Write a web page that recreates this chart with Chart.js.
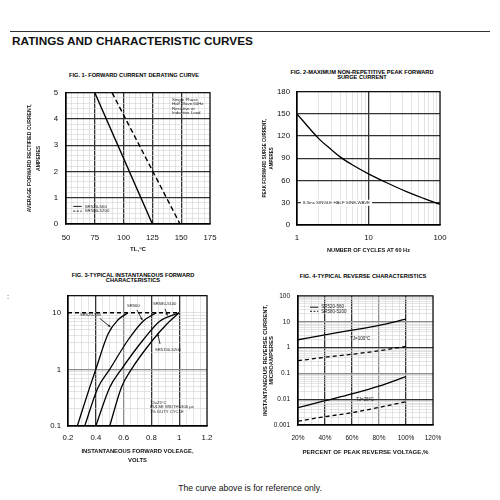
<!DOCTYPE html>
<html>
<head>
<meta charset="utf-8">
<title>Ratings and characteristic curves</title>
<script src="https://cdn.jsdelivr.net/npm/chart.js@4.4.1/dist/chart.umd.min.js"></script>
<style>
  html, body { margin: 0; padding: 0; background: #fff; }
  body { position: relative; width: 500px; height: 500px; overflow: hidden; font-family: 'Liberation Sans', Arial, sans-serif; color: #111; }
  canvas { position: absolute; }
  .rule { position: absolute; left: 10px; top: 31px; width: 480px; height: 1px; background: #333; }
  .head { position: absolute; left: 12px; top: 33px; font-size: 11.8px; line-height: 16px; font-weight: bold; white-space: nowrap; }
  .fig { position: absolute; width: 240px; font-size: 5.7px; line-height: 5px; font-weight: bold; text-align: center; white-space: nowrap; color: #000; }
  .foot { position: absolute; left: 0; top: 482px; width: 500px; text-align: center; font-size: 8.6px; line-height: 12px; }
  .dot { position: absolute; left: 7px; top: 292px; font-size: 7px; line-height: 10px; }
</style>
</head>
<body>
<div class="rule"></div>
<div class="head">RATINGS AND CHARACTERISTIC CURVES</div>
<div class="fig" style="left:14px;top:72.6px">FIG. 1- FORWARD CURRENT DERATING CURVE</div>
<div class="fig" style="left:242px;top:69.9px">FIG. 2-MAXIMUM NON-REPETITIVE PEAK FORWARD<br>SURGE CURRENT</div>
<div class="fig" style="left:13px;top:272.6px">FIG. 3-TYPICAL INSTANTANEOUS FORWARD<br>CHARACTERISTICS</div>
<div class="fig" style="left:243px;top:274.3px">FIG. 4-TYPICAL REVERSE CHARACTERISTICS</div>
<div class="dot">:</div>
<canvas id="fig1" width="240" height="180" style="left:0;top:80px"></canvas>
<canvas id="fig2" width="250" height="180" style="left:250px;top:80px"></canvas>
<canvas id="fig3" width="240" height="186" style="left:0;top:284px"></canvas>
<canvas id="fig4" width="250" height="186" style="left:250px;top:284px"></canvas>
<div class="foot">The curve above is for reference only.</div>
<script>
Chart.defaults.font.family = "'Liberation Sans', Arial, sans-serif";
Chart.defaults.color = '#111';
Chart.defaults.animation = false;
Chart.defaults.plugins.legend.display = false;
Chart.defaults.plugins.tooltip.enabled = false;

// fig 1 - forward current derating
const derateTempA = [75, 125];
const derateAmpsA = [5, 0];
const derateTempB = [90, 149];
const derateAmpsB = [5, 0];
const derateTempTicks = [50, 75, 100, 125, 150, 175];
const derateAmpTicks = [0, 1, 2, 3, 4, 5];
const derateSeries = ['SR520-560', 'SR580-5200'];
const derateNote = ['Single Phase', 'Half Wave 60Hz', 'Resistive or', 'Inductive Load'];

// fig 2 - peak forward surge current
const surgeCycles = [1, 2, 3, 4, 6, 10, 18, 34, 59, 100];
const surgeAmps = [150, 117, 102, 92, 81, 69, 57, 45, 36, 28];
const surgeCycleTicks = [1, 10, 100];
const surgeAmpTicks = [0, 30, 60, 90, 120, 150, 180];
const surgeNote = ['8.3ms SINGLE HALF SINE-WAVE'];

// fig 3 - instantaneous forward characteristics
const fwdSeries = ['SR520-540', 'SR560', 'SR580-5100', 'SR5150-5200'];
const fwdVoltsA = [0.267, 0.356, 0.40, 0.488, 0.56, 0.632];
const fwdAmpsA = [0.1, 0.48, 1.0, 4.2, 7.5, 10];
const fwdVoltsB = [0.32, 0.416, 0.50, 0.632, 0.74, 0.836];
const fwdAmpsB = [0.1, 0.48, 1.0, 3.3, 7.1, 10];
const fwdVoltsC = [0.40, 0.50, 0.584, 0.74, 0.86, 1.0];
const fwdAmpsC = [0.1, 0.48, 1.0, 3.3, 7.1, 10];
const fwdVoltsD = [0.50, 0.584, 0.656, 0.81, 0.908, 1.0];
const fwdAmpsD = [0.1, 0.48, 1.0, 3.3, 6.2, 10];
const fwdLimitVolts = [0.2, 1.0];
const fwdLimitAmps = [10, 10];
const fwdVoltTicks = [0.2, 0.4, 0.6, 0.8, 1, 1.2];
const fwdAmpTicks = [0.1, 1, 10];
const fwdNote = ['TJ=25°C', 'PULSE WIDTH=300 μs', '1% DUTY CYCLE'];

// fig 4 - reverse characteristics
const revPct = [20, 40, 60, 80, 100];
const rev100A = [2.0, 3.1, 4.7, 7.2, 12.5];
const rev100B = [0.31, 0.42, 0.55, 0.75, 1.1];
const rev25A = [0.0047, 0.0087, 0.016, 0.032, 0.075];
const rev25B = [0.0014, 0.0021, 0.003, 0.0048, 0.008];
const revPctTicks = [20, 40, 60, 80, 100, 120];
const revAmpTicks = [0.001, 0.01, 0.1, 1, 10, 100];
const revSeries = ['SR520-560', 'SR580-5200'];
const revTemps = ['TJ=100°C', 'TJ=25°C'];

function pts(xs, ys) {
    return xs.map(function(x, i) { return { x: x, y: ys[i] }; });
}
function find(list, v) {
    var i = list.findIndex(function(t) { return Math.abs(t - v) <= Math.abs(t) * 1e-6 + 1e-9; });
    return i < 0 ? null : list[i];
}
function line(xs, ys, dash, width) {
    return {
        data: pts(xs, ys),
        showLine: true,
        borderColor: '#000',
        borderWidth: width || 1.3,
        borderDash: dash || [],
        pointRadius: 0,
        cubicInterpolationMode: 'monotone'
    };
}
function axis(o) {
    var cfg = {
        type: o.type || 'linear',
        min: o.min,
        max: o.max,
        ticks: {
            autoSkip: false,
            maxRotation: 0,
            padding: o.pad,
            color: '#111',
            font: { size: o.size || 7.8 },
            callback: function(v) {
                var t = find(o.labels, v);
                return t === null ? '' : (o.fmt ? o.fmt(t) : String(t));
            }
        },
        grid: {
            drawTicks: false,
            color: function(c) {
                var v = c.tick ? c.tick.value : NaN;
                if (find(o.dark || [], v) !== null) return '#333';
                if (find(o.grey || [], v) !== null) return '#8c8c8c';
                return '#d2d2d2';
            },
            lineWidth: function(c) {
                var v = c.tick ? c.tick.value : NaN;
                return (find(o.dark || [], v) !== null || find(o.grey || [], v) !== null) ? 1.3 : 0.6;
            }
        },
        border: { color: '#000', width: 1.2 },
        title: o.title ? {
            display: true,
            text: o.title,
            color: '#111',
            font: { size: o.tsize, weight: 'bold', lineHeight: o.tlh },
            padding: o.tpad
        } : { display: false },
        afterFit: function(s) {
            if (o.w) s.width = o.w;
            if (o.h) s.height = o.h;
        }
    };
    if (o.step) cfg.ticks.stepSize = o.step;
    if (cfg.type === 'logarithmic') {
        // keep 1..9 per decade only
        cfg.afterBuildTicks = function(s) {
            s.ticks = s.ticks.filter(function(t) {
                var m = t.value / Math.pow(10, Math.floor(Math.log10(t.value) + 1e-9));
                return Math.abs(m - Math.round(m)) < 1e-6;
            });
        };
    }
    return cfg;
}

// frame, legends, notes and arrows placed in data units
function extras(spec) {
    return {
        id: 'extras',
        afterDatasetsDraw: function(chart) {
            var ctx = chart.ctx, a = chart.chartArea, x = chart.scales.x, y = chart.scales.y;
            ctx.save();
            ctx.strokeStyle = '#000';
            ctx.lineWidth = 1.2;
            ctx.strokeRect(a.left, a.top, a.right - a.left, a.bottom - a.top);
            ctx.fillStyle = '#222';
            ctx.textBaseline = 'middle';
            ctx.font = spec.font;
            (spec.keys || []).forEach(function(k) {
                var py = y.getPixelForValue(k.y), x1 = x.getPixelForValue(k.x1), x2 = x.getPixelForValue(k.x2);
                ctx.lineWidth = 0.9;
                ctx.setLineDash(k.dash);
                ctx.beginPath();
                ctx.moveTo(x1, py);
                ctx.lineTo(x2, py);
                ctx.stroke();
                ctx.setLineDash([]);
                ctx.textAlign = 'left';
                ctx.fillText(k.text, x2 + 3, py);
            });
            (spec.notes || []).forEach(function(n) {
                var px = x.getPixelForValue(n.x), py = y.getPixelForValue(n.y);
                ctx.textAlign = n.align || 'left';
                n.lines.forEach(function(t, i) {
                    if (n.bg) {
                        var w = ctx.measureText(t).width;
                        ctx.fillStyle = '#fff';
                        ctx.fillRect(px - 2, py - 3, w + 4, 6);
                        ctx.fillStyle = '#222';
                    }
                    ctx.fillText(t, px, py + i * spec.lh);
                });
            });
            (spec.arrows || []).forEach(function(r) {
                var x1 = x.getPixelForValue(r.x1), y1 = y.getPixelForValue(r.y1);
                var x2 = x.getPixelForValue(r.x2), y2 = y.getPixelForValue(r.y2);
                var ang = Math.atan2(y2 - y1, x2 - x1), hl = 3;
                ctx.lineWidth = 0.8;
                ctx.beginPath();
                ctx.moveTo(x1, y1);
                ctx.lineTo(x2, y2);
                ctx.stroke();
                ctx.beginPath();
                ctx.moveTo(x2, y2);
                ctx.lineTo(x2 - hl * Math.cos(ang - 0.45), y2 - hl * Math.sin(ang - 0.45));
                ctx.lineTo(x2 - hl * Math.cos(ang + 0.45), y2 - hl * Math.sin(ang + 0.45));
                ctx.closePath();
                ctx.fill();
            });
            ctx.restore();
        }
    };
}

var tiny = "4.4px 'Liberation Sans', Arial, sans-serif";

new Chart(document.getElementById('fig1'), {
    type: 'scatter',
    data: {
        datasets: [
            line(derateTempA, derateAmpsA, [], 1.4),
            line(derateTempB, derateAmpsB, [5, 3], 1.4)
        ]
    },
    options: {
        responsive: false,
        maintainAspectRatio: false,
        layout: { padding: { top: 8, right: 30, bottom: 0, left: 0 } },
        scales: {
            x: axis({ min: 50, max: 175, step: 5, labels: derateTempTicks, dark: [75, 100, 125, 150], pad: 9.3, h: 36,
                title: 'TL,°C', tsize: 6.1, tlh: 1.2, tpad: { top: 0, bottom: 7.3 } }),
            y: axis({ min: 0, max: 5, step: 0.2, labels: derateAmpTicks, dark: [1, 2, 3, 4], pad: 8, w: 66,
                title: ['AVERAGE FORWARD RECTIFIED CURRENT,', 'AMPERES'], tsize: 5.1, tlh: 1.765, tpad: { top: 25.5, bottom: 0 } })
        }
    },
    plugins: [extras({
        font: tiny, lh: 4.4,
        notes: [{ x: 142, y: 4.74, lines: derateNote }],
        keys: [
            { x1: 56.3, x2: 63.6, y: 0.67, dash: [], text: derateSeries[0] },
            { x1: 56.3, x2: 63.6, y: 0.49, dash: [2, 1.5], text: derateSeries[1] }
        ]
    })]
});

new Chart(document.getElementById('fig2'), {
    type: 'scatter',
    data: { datasets: [line(surgeCycles, surgeAmps, [], 1.3)] },
    options: {
        responsive: false,
        maintainAspectRatio: false,
        layout: { padding: { top: 9, right: 60, bottom: 0, left: 0 } },
        scales: {
            x: axis({ type: 'logarithmic', min: 1, max: 100, labels: surgeCycleTicks, dark: [10], pad: 8.3, h: 35,
                title: 'NUMBER OF CYCLES AT 60 Hz', tsize: 5.6, tlh: 1.2, tpad: { top: 0, bottom: 5.9 } }),
            y: axis({ min: 0, max: 180, step: 30, labels: surgeAmpTicks, dark: [30, 60, 90, 120, 150], pad: 7, w: 47,
                title: ['PEAK FORWARD SURGE CURRENT,', 'AMPERES'], tsize: 4.5, tlh: 1.49, tpad: { top: 11.6, bottom: 0 } })
        }
    },
    plugins: [extras({
        font: tiny, lh: 4.4,
        notes: [{ x: 1.21, y: 30, lines: surgeNote, bg: true }]
    })]
});

new Chart(document.getElementById('fig3'), {
    type: 'scatter',
    data: {
        datasets: [
            line(fwdLimitVolts, fwdLimitAmps, [4, 3], 1.4),
            line(fwdVoltsA, fwdAmpsA),
            line(fwdVoltsB, fwdAmpsB),
            line(fwdVoltsC, fwdAmpsC),
            line(fwdVoltsD, fwdAmpsD)
        ]
    },
    options: {
        responsive: false,
        maintainAspectRatio: false,
        layout: { padding: { top: 4, right: 33, bottom: 0, left: 0 } },
        scales: {
            x: axis({ min: 0.2, max: 1.2, step: 0.05, labels: fwdVoltTicks, dark: [0.4, 0.8, 1.0], grey: [0.6], pad: 7.3, h: 44,
                title: ['INSTANTANEOUS FORWARD VOLEAGE,', 'VOLTS'], tsize: 5.8, tlh: 1.55, tpad: { top: 0, bottom: 4.8 } }),
            y: axis({ type: 'logarithmic', min: 0.1, max: 20, labels: fwdAmpTicks, grey: [1], pad: 7, w: 68 })
        }
    },
    plugins: [extras({
        font: "4.2px 'Liberation Sans', Arial, sans-serif", lh: 4.7,
        notes: [
            { x: 0.286, y: 9.25, lines: [fwdSeries[0]] },
            { x: 0.624, y: 13.1, lines: [fwdSeries[1]] },
            { x: 0.811, y: 14.1, lines: [fwdSeries[2]] },
            { x: 0.826, y: 2.24, lines: [fwdSeries[3]] },
            { x: 0.79, y: 0.26, lines: fwdNote }
        ],
        arrows: [
            { x1: 0.43, y1: 7.9, x2: 0.505, y2: 5.6 },
            { x1: 0.696, y1: 11.2, x2: 0.735, y2: 7.4 },
            { x1: 0.898, y1: 11.7, x2: 0.915, y2: 8.9 },
            { x1: 0.862, y1: 2.8, x2: 0.845, y2: 4.3 }
        ]
    })]
});

new Chart(document.getElementById('fig4'), {
    type: 'scatter',
    data: {
        datasets: [
            line(revPct, rev100A),
            line(revPct, rev100B, [4, 3]),
            line(revPct, rev25A),
            line(revPct, rev25B, [4, 3])
        ]
    },
    options: {
        responsive: false,
        maintainAspectRatio: false,
        layout: { padding: { top: 4, right: 67, bottom: 0, left: 0 } },
        scales: {
            x: axis({ min: 20, max: 120, step: 5, labels: revPctTicks, fmt: function(t) { return t + '%'; },
                dark: [40, 60, 100], grey: [80], pad: 9.1, size: 6.5, h: 45,
                title: 'PERCENT OF PEAK REVERSE VOLTAGE,%', tsize: 6.1, tlh: 1.2, tpad: { top: 0, bottom: 13.6 } }),
            y: axis({ type: 'logarithmic', min: 0.001, max: 100, labels: revAmpTicks, dark: [0.01, 1], grey: [0.1, 10],
                pad: 8, size: 6.5, w: 48,
                title: ['INSTANTANEOUS REVERSE CURRENT,', 'MICROAMPERES'], tsize: 5.9, tlh: 1.14, tpad: { top: 11.6, bottom: 0 } })
        }
    },
    plugins: [extras({
        font: "4.5px 'Liberation Sans', Arial, sans-serif", lh: 4.5,
        notes: [
            { x: 66, y: 2.1, lines: [revTemps[0]], align: 'center' },
            { x: 69.6, y: 0.0094, lines: [revTemps[1]], align: 'center' }
        ],
        keys: [
            { x1: 28.9, x2: 35, y: 36.5, dash: [], text: revSeries[0] },
            { x1: 28.9, x2: 35, y: 25.4, dash: [2, 1.5], text: revSeries[1] }
        ]
    })]
});
</script>
</body>
</html>
